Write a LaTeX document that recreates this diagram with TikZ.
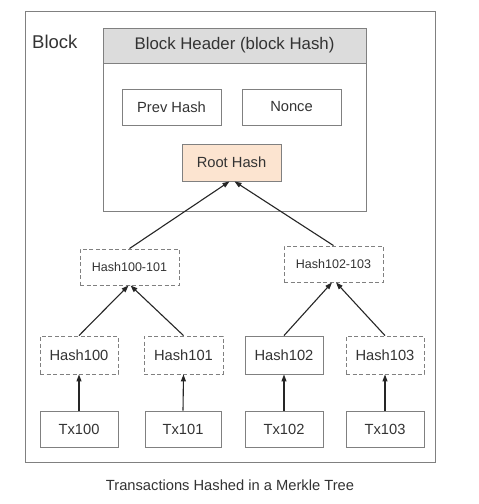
\documentclass[tikz,border=0pt]{standalone}
\usepackage{fontspec}
\setmainfont{Liberation Sans}
\usetikzlibrary{arrows.meta}
\definecolor{bord}{HTML}{808080}
\definecolor{txt}{HTML}{333333}
\definecolor{hdr}{HTML}{DCDCDC}
\definecolor{peach}{HTML}{FCE4D0}
\begin{document}
\begin{tikzpicture}[x=1pt,y=-1pt,
  box/.style={draw=bord,line width=0.9pt,text=txt,font=\fontsize{14.7}{16}\selectfont,inner sep=0pt},
  dbox/.style={box,dashed,dash pattern=on 4pt off 2.5pt},
  arr/.style={-{Triangle[length=7pt,width=5pt]},line width=1.1pt,draw=black!85},
  lbl/.style={text=txt,inner sep=0pt}]
\useasboundingbox (0,0) rectangle (479,504);
\fill[white] (0,0) rectangle (479,504);
% outer block
\node[draw=bord,line width=0.9pt,minimum width=410pt,minimum height=451pt,inner sep=0pt] (block) at (230,236.5) {};
\node[lbl,font=\fontsize{18.5}{20}\selectfont,anchor=west] (blocklbl) at (32,42) {Block};
% header
\node[draw=bord,line width=0.9pt,minimum width=263pt,minimum height=183pt,inner sep=0pt] (header) at (234.5,119.5) {};
\node[draw=bord,line width=0.9pt,fill=hdr,minimum width=263pt,minimum height=35pt,inner sep=0pt,text=txt,font=\fontsize{16.8}{18}\selectfont] (hdrband) at (234.5,45.5) {Block Header (block Hash)};
\node[box,minimum width=99pt,minimum height=36pt] (prev) at (171.5,107) {Prev Hash};
\node[box,minimum width=99pt,minimum height=36pt] (nonce) at (291.5,107) {Nonce};
\node[box,fill=peach,minimum width=99pt,minimum height=37pt] (root) at (231.5,162.5) {Root Hash};
% level 2
\node[dbox,minimum width=99pt,minimum height=36pt,font=\fontsize{12.5}{14}\selectfont] (h01) at (129.5,267) {Hash100-101};
\node[dbox,minimum width=99pt,minimum height=36pt,font=\fontsize{12.5}{14}\selectfont] (h23) at (333.5,264) {Hash102-103};
% level 3
\node[dbox,minimum width=78pt,minimum height=38pt] (h0) at (79,355) {Hash100};
\node[dbox,minimum width=79pt,minimum height=38pt] (h1) at (183.5,355) {Hash101};
\node[box,minimum width=78pt,minimum height=38pt] (h2) at (284,355) {Hash102};
\node[dbox,minimum width=78pt,minimum height=38pt] (h3) at (385,355) {Hash103};
% tx
\node[box,minimum width=78pt,minimum height=36pt] (t0) at (79,429) {Tx100};
\node[box,minimum width=76pt,minimum height=36pt] (t1) at (183,429) {Tx101};
\node[box,minimum width=78pt,minimum height=36pt] (t2) at (284,429) {Tx102};
\node[box,minimum width=78pt,minimum height=36pt] (t3) at (385,429) {Tx103};
% caption
\node[lbl,font=\fontsize{14.7}{16}\selectfont] (cap) at (230,485) {Transactions Hashed in a Merkle Tree};
% arrows
\draw[arr] (t0.north) -- (h0.south);
\draw[arr] (t1.north) -- (h1.south);
\draw[arr] (t2.north) -- (h2.south);
\draw[arr] (t3.north) -- (h3.south);
\draw[arr] (h0.north) -- ([xshift=-1pt]h01.south);
\draw[arr] (h1.north) -- ([xshift=1pt]h01.south);
\draw[arr] (h2.north) -- ([xshift=-1.5pt]h23.south);
\draw[arr] (h3.north) -- ([xshift=2.5pt]h23.south);
\draw[arr] (h01.north) -- ([xshift=-2pt]root.south);
\draw[arr] (h23.north) -- ([xshift=3pt]root.south);
\end{tikzpicture}
\end{document}
